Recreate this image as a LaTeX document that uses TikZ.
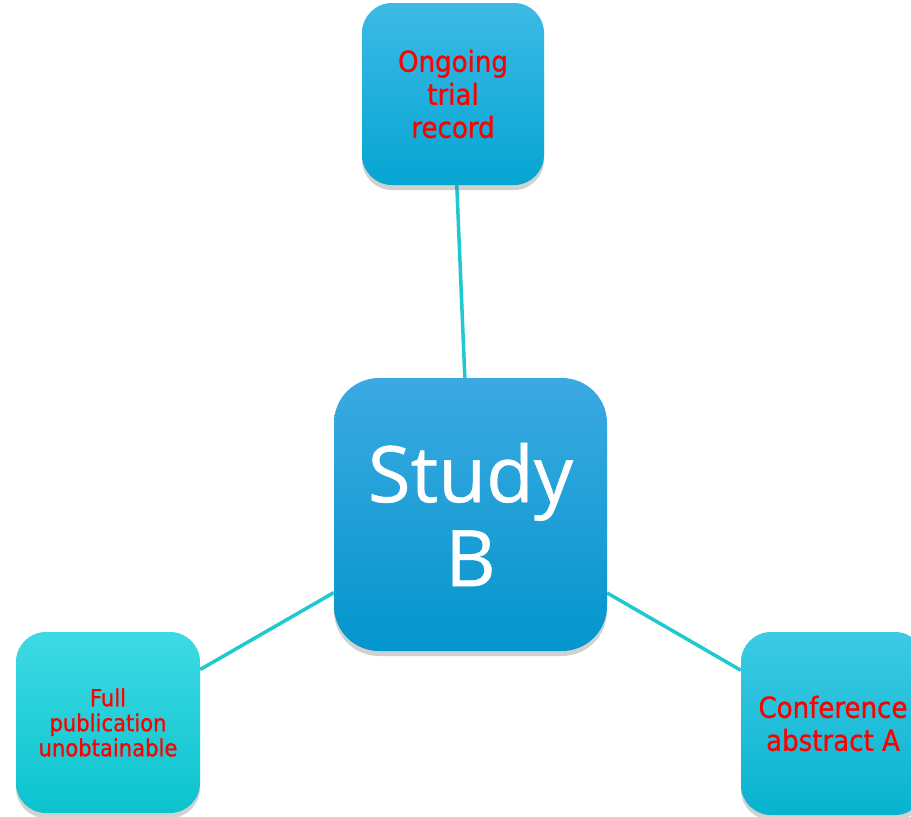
\documentclass[tikz,border=0pt]{standalone}
\usepackage{fontspec}
\setmainfont[FakeBold=0.8]{DejaVu Sans Condensed}
\newfontfamily\bigfont[FakeBold=0.6]{Open Sans}
\usetikzlibrary{shadows,backgrounds}
\definecolor{linkc}{HTML}{20C8D0}
\definecolor{redt}{HTML}{FF0000}
\definecolor{topA}{HTML}{3DBAE6}\definecolor{topB}{HTML}{05A5D2}
\definecolor{midA}{HTML}{3CA9E2}\definecolor{midB}{HTML}{0396CC}
\definecolor{fulA}{HTML}{3DDAE4}\definecolor{fulB}{HTML}{0BC3CD}
\definecolor{conA}{HTML}{3DCAE4}\definecolor{conB}{HTML}{07B3CF}
\tikzset{
  box/.style={rounded corners=30pt, minimum width=182pt, minimum height=182pt, inner sep=0pt,
    align=center, text=redt, font=\fontsize{29}{33}\selectfont,
    drop shadow={shadow xshift=0pt, shadow yshift=-5pt, opacity=0.3, fill=black!60}},
  link/.style={draw=linkc, line width=3.5pt}
}
\begin{document}
\begin{tikzpicture}[x=1pt,y=-1pt]
\useasboundingbox (0,0) rectangle (911,817);
\clip (0,0) rectangle (911,817);
\node[box, top color=topA, bottom color=topB] (top) at (453,94) {Ongoing\\trial\\record};
\node[box, rounded corners=45pt, minimum width=273pt, minimum height=273pt, text=white,
      font=\bigfont\fontsize{78}{86}\selectfont,
      top color=midA, bottom color=midB] (study) at (470.5,514.5) {Study\\[-2pt]B};
\node[box, minimum width=184pt, minimum height=181pt, font=\fontsize{23.5}{25}\selectfont,
      top color=fulA, bottom color=fulB] (full) at (108,722.5) {Full\\publication\\unobtainable};
\node[box, minimum width=184pt, minimum height=183pt,
      top color=conA, bottom color=conB] (conf) at (833,723.5) {Conference\\abstract A};
\begin{scope}[on background layer]
\draw[link] (top) -- (study);
\draw[link] (full) -- (study);
\draw[link] (conf) -- (study);
\end{scope}
\end{tikzpicture}
\end{document}
